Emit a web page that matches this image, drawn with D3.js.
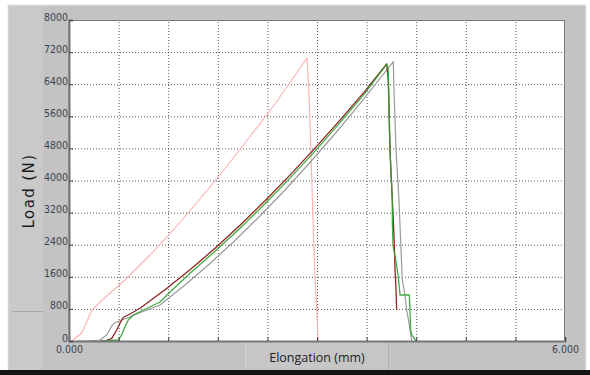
<!DOCTYPE html>
<html>
<head>
<meta charset="utf-8">
<script src="https://cdn.jsdelivr.net/npm/d3@7"></script>
<style>
  html, body { margin: 0; padding: 0; background: #fff; }
  svg { display: block; }
</style>
</head>
<body>
<svg id="canvas"></svg>
<script>
// tick values and labels
let xTicks = [0, 0.6, 1.2, 1.8, 2.4, 3.0, 3.6, 4.2, 4.8, 5.4, 6.0]
let xTickLabels = ['0.000', '', '', '', '', '', '', '', '', '', '6.000']
let yTicks = [0, 800, 1600, 2400, 3200, 4000, 4800, 5600, 6400, 7200, 8000]
let yTickLabels = ['0', '800', '1600', '2400', '3200', '4000', '4800', '5600', '6400', '7200', '8000']

// series: [elongation mm, load N]
let pinkSeries = [
  [0.033, 0], [0.154, 199], [0.275, 760], [0.375, 972], [0.677, 1520], [0.980, 2143],
  [1.282, 2816], [1.585, 3539], [1.887, 4299], [2.190, 5097], [2.492, 5907], [2.879, 7053],
  [2.907, 6006], [2.948, 3265], [2.975, 1600], [3.015, 0]
]
let graySeries = [
  [0.10, 0], [0.214, 0], [0.375, 25], [0.456, 150], [0.517, 374], [0.556, 456], [0.617, 506],
  [0.698, 566], [0.819, 673], [1.101, 897], [1.403, 1396], [1.706, 1931], [2.008, 2505],
  [2.310, 3115], [2.613, 3763], [2.915, 4449], [3.218, 5165], [3.520, 5913], [3.923, 6961],
  [3.931, 6255], [3.956, 4760], [3.992, 3514], [4.016, 2268], [4.032, 1520], [4.064, 1146],
  [4.085, 773], [4.117, 399], [4.125, 274], [4.146, 0]
]
let redSeries = [
  [0.375, 0], [0.435, 0], [0.517, 67], [0.577, 274], [0.617, 441], [0.657, 591], [0.738, 673],
  [0.859, 815], [1.161, 1276], [1.464, 1774], [1.766, 2310], [2.069, 2883], [2.371, 3494],
  [2.673, 4135], [2.976, 4807], [3.278, 5505], [3.581, 6228], [3.843, 6903], [3.862, 6505],
  [3.883, 4760], [3.911, 3514], [3.923, 3016], [3.935, 2392], [3.944, 1769], [3.956, 1271],
  [3.964, 773]
]
let greenSeries = [
  [0.375, 0], [0.596, 25], [0.637, 150], [0.677, 356], [0.717, 523], [0.778, 648], [0.859, 730],
  [1.101, 972], [1.222, 1221], [1.464, 1687], [1.766, 2235], [2.069, 2809], [2.371, 3419],
  [2.673, 4060], [2.976, 4733], [3.278, 5443], [3.581, 6178], [3.843, 6903], [3.862, 6754],
  [3.883, 4760], [3.911, 3514], [3.911, 3016], [3.919, 2392], [3.956, 1976], [3.983, 1602],
  [4.004, 1146], [4.117, 1146], [4.125, 773], [4.133, 274], [4.146, 150], [4.198, 0]
]

let width = 590
let height = 375
let plotLeft = 69
let plotRight = 565
let plotTop = 20
let plotBottom = 341

let canvas = d3.select('#canvas')
  .attr('width', width)
  .attr('height', height)

// window frame
canvas.append('rect').attr('x', 8).attr('y', 5).attr('width', 578).attr('height', 366)
  .attr('fill', '#c3c3c3').attr('stroke', '#e6e6e6').attr('stroke-width', 1)
canvas.append('rect').attr('x', 9).attr('y', 6).attr('width', 34).attr('height', 364)
  .attr('fill', '#c9c9c9')
canvas.append('line').attr('x1', 12).attr('x2', 43).attr('y1', 311.5).attr('y2', 311.5)
  .attr('stroke', '#a8a8a8')
canvas.append('rect').attr('x', 246).attr('y', 343).attr('width', 142).attr('height', 27)
  .attr('fill', '#c6c6c6')
canvas.append('line').attr('x1', 388.5).attr('x2', 388.5).attr('y1', 343).attr('y2', 370)
  .attr('stroke', '#b0b0b0')
canvas.append('line').attr('x1', 245.5).attr('x2', 245.5).attr('y1', 343).attr('y2', 370)
  .attr('stroke', '#d2d2d2')
canvas.append('rect').attr('x', 0).attr('y', 370).attr('width', width).attr('height', 5)
  .attr('fill', '#141414')

// plot area
canvas.append('rect').attr('x', plotLeft).attr('y', plotTop)
  .attr('width', plotRight - plotLeft).attr('height', plotBottom - plotTop)
  .attr('fill', '#ffffff')

let xScale = d3.scaleLinear().domain([0, 6]).range([plotLeft, plotRight])
let yScale = d3.scaleLinear().domain([0, 8000]).range([plotBottom, plotTop])

// dotted grid
canvas.append('g')
  .attr('transform', 'translate(0,' + plotBottom + ')')
  .call(d3.axisBottom(xScale).tickValues(xTicks.slice(1, -1)).tickSize(-(plotBottom - plotTop)).tickFormat(''))
  .call(g => g.select('.domain').remove())
  .selectAll('line').attr('stroke', '#555').attr('stroke-dasharray', '1,2')
canvas.append('g')
  .attr('transform', 'translate(' + plotLeft + ',0)')
  .call(d3.axisLeft(yScale).tickValues(yTicks.slice(1, -1)).tickSize(-(plotRight - plotLeft)).tickFormat(''))
  .call(g => g.select('.domain').remove())
  .selectAll('line').attr('stroke', '#555').attr('stroke-dasharray', '1,2')

// curves
let line = d3.line()
  .x(d => xScale(d[0]))
  .y(d => yScale(d[1]))

canvas.append('path').datum(pinkSeries).attr('d', line)
  .attr('fill', 'none').attr('stroke', '#ffb0b0').attr('stroke-width', 1.1)
  .attr('stroke-linejoin', 'round')
canvas.append('path').datum(graySeries).attr('d', line)
  .attr('fill', 'none').attr('stroke', '#9a9a9a').attr('stroke-width', 1.2)
  .attr('stroke-linejoin', 'round')
canvas.append('path').datum(redSeries).attr('d', line)
  .attr('fill', 'none').attr('stroke', '#8e2424').attr('stroke-width', 1.3)
  .attr('stroke-linejoin', 'round')
canvas.append('path').datum(greenSeries).attr('d', line)
  .attr('fill', 'none').attr('stroke', '#2fa02f').attr('stroke-width', 1.3)
  .attr('stroke-opacity', 0.9).attr('stroke-linejoin', 'round')

// plot border
canvas.append('rect').attr('x', plotLeft).attr('y', plotTop + 0.5)
  .attr('width', plotRight - plotLeft - 0.5).attr('height', plotBottom - plotTop)
  .attr('fill', 'none').attr('stroke', '#7a7a7a').attr('stroke-width', 1)

// axes with inward ticks
let xAxis = d3.axisBottom(xScale)
  .tickValues(xTicks)
  .tickSize(-4)
  .tickPadding(5)
  .tickFormat((d, i) => xTickLabels[i])
canvas.append('g')
  .attr('id', 'x-axis')
  .attr('transform', 'translate(0,' + plotBottom + ')')
  .call(xAxis)
  .call(g => g.select('.domain').attr('stroke', '#777').attr('stroke-width', 2))
  .call(g => g.selectAll('line').attr('stroke', '#444'))
  .call(g => g.selectAll('text')
    .attr('fill', '#3e4250')
    .style('font-family', '"Liberation Sans Narrow", "DejaVu Sans Condensed", sans-serif')
    .style('font-size', '10.5px'))

let yAxis = d3.axisLeft(yScale)
  .tickValues(yTicks)
  .tickSize(-4)
  .tickPadding(1)
  .tickFormat((d, i) => yTickLabels[i])
canvas.append('g')
  .attr('id', 'y-axis')
  .attr('transform', 'translate(' + plotLeft + ',0)')
  .call(yAxis)
  .call(g => g.select('.domain').attr('stroke', '#777').attr('stroke-width', 2))
  .call(g => g.selectAll('line').attr('stroke', '#444'))
  .call(g => g.selectAll('text')
    .attr('dy', '0em')
    .attr('fill', '#3e4250')
    .style('font-family', '"Liberation Sans Narrow", "DejaVu Sans Condensed", sans-serif')
    .style('font-size', '10.5px'))

// axis titles
canvas.append('text')
  .attr('transform', 'translate(34,191) rotate(-90)')
  .attr('text-anchor', 'middle')
  .attr('fill', '#1a1a1a')
  .style('font-family', '"DejaVu Sans", sans-serif')
  .style('font-size', '15px')
  .style('letter-spacing', '1.4px')
  .text('Load (N)')

canvas.append('text')
  .attr('x', 317)
  .attr('y', 362)
  .attr('text-anchor', 'middle')
  .attr('fill', '#222')
  .style('font-family', '"Open Sans", sans-serif')
  .style('font-size', '12.5px')
  .text('Elongation (mm)')
</script>
</body>
</html>
